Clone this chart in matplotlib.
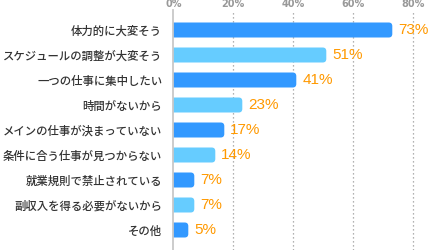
import matplotlib
matplotlib.use("Agg")
import matplotlib.pyplot as plt
from matplotlib.patches import FancyBboxPatch

plt.rcParams['font.family'] = ['Noto Sans CJK JP', 'DejaVu Sans']

# data
reasons = [
    "体力的に大変そう",
    "スケジュールの調整が大変そう",
    "一つの仕事に集中したい",
    "時間がないから",
    "メインの仕事が決まっていない",
    "条件に合う仕事が見つからない",
    "就業規則で禁止されている",
    "副収入を得る必要がないから",
    "その他",
]
percents = [73, 51, 41, 23, 17, 14, 7, 7, 5]
ticks = [0, 20, 40, 60, 80]
tick_labels = ["0%", "20%", "40%", "60%", "80%"]

DARK = "#3399ff"
LIGHT = "#66ccff"
colors = [DARK if i % 2 == 0 else LIGHT for i in range(len(reasons))]

W, H = 428, 250
fig = plt.figure(figsize=(W / 100, H / 100), dpi=100)
left_px, top_px = 173.3, 10
ax = fig.add_axes([left_px / W, 0, 1 - left_px / W, 1 - top_px / H])

ypos = list(range(len(reasons)))
bars = ax.barh(ypos, percents, height=0.6, color=colors, zorder=3)

# swap the plain bars for ones with rounded ends (left end hidden behind the axis)
for b, c in zip(bars, colors):
    x0, y0, w, h = b.get_x(), b.get_y(), b.get_width(), b.get_height()
    ax.add_patch(FancyBboxPatch((x0 - 2, y0), w + 2, h,
                                boxstyle="round,pad=0,rounding_size=1.2",
                                mutation_aspect=0.12, facecolor=c,
                                edgecolor="none", zorder=3))
    b.set_visible(False)

ax.set_xlim(0, (W - left_px) / 3.0)
ax.set_ylim(8.8, -0.8)

# dotted grid
for t in ticks[1:]:
    ax.axvline(t, color="#999999", linestyle=(0, (1, 2.2)), linewidth=0.9, zorder=1)

for s in ["top", "right", "bottom"]:
    ax.spines[s].set_visible(False)
ax.spines["left"].set_color("#c8c8c8")
ax.spines["left"].set_linewidth(1.3)
ax.spines["left"].set_zorder(4)

ax.xaxis.tick_top()
ax.set_xticks(ticks)
ax.set_xticklabels(tick_labels, fontsize=7, color="#999999", family="DejaVu Sans",
                   fontweight="bold")
ax.tick_params(axis="x", length=0, pad=0.5)

ax.set_yticks(ypos)
ax.set_yticklabels(reasons, fontsize=8.2, color="#333333", fontweight="medium")
ax.tick_params(axis="y", length=0, pad=8)

for y, v in zip(ypos, percents):
    ax.text(v + 2, y, f"{v}%", va="center", ha="left", fontsize=11,
            color="#ff9900", family="Liberation Sans", zorder=5)

fig.savefig("out.png", dpi=100)
